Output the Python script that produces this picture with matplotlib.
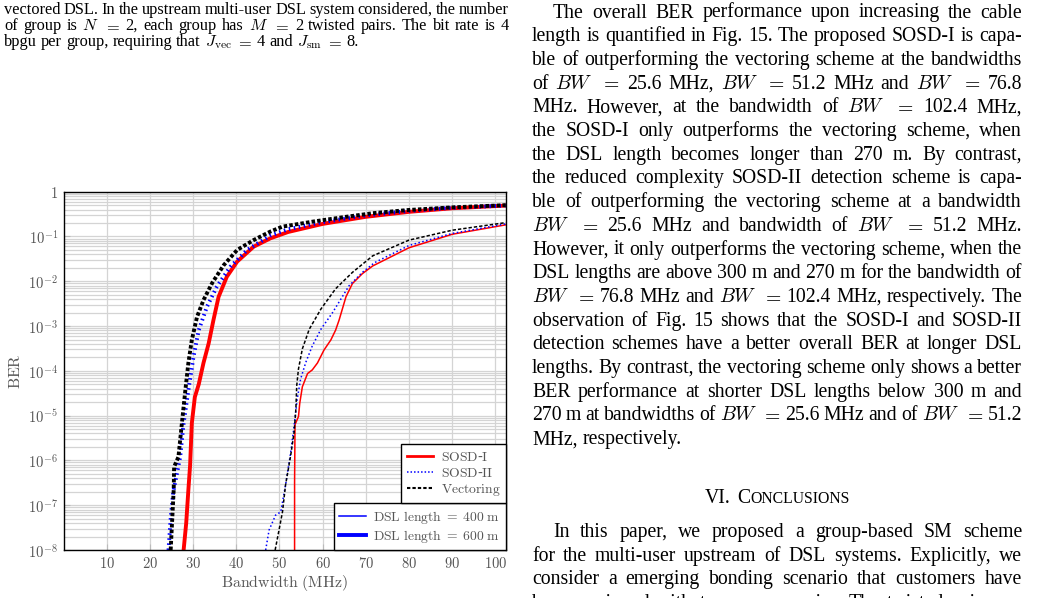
import numpy as np
import matplotlib
matplotlib.use('Agg')
import matplotlib.pyplot as plt
from matplotlib.lines import Line2D

plt.rcParams['mathtext.fontset'] = 'cm'

# ---- data (bandwidth in MHz, BER) ----
# DSL length = 600 m (thick lines)
bw_sosd1_600 = [27.8, 28.4, 28.9, 29.3, 29.7, 30.4, 31.3, 32.4, 33.6, 34.7, 35.9, 37.8, 40.2, 44.0, 47.9, 52.0, 60.0, 70.0, 80.0, 90.0, 102.4]
ber_sosd1_600 = [1e-8, 4.0e-8, 2.2e-7, 7.8e-7, 6.8e-6, 2.6e-5, 5.0e-5, 1.5e-4, 4.1e-4, 1.35e-3, 4.5e-3, 1.26e-2, 2.75e-2, 5.9e-2, 9.1e-2, 0.126, 0.191, 0.275, 0.355, 0.427, 0.49]
bw_sosd2_600 = [24.3, 24.8, 25.4, 26.2, 27.0, 27.8, 28.9, 30.1, 31.3, 33.2, 35.5, 38.6, 42.5, 47.9, 52.0, 60.0, 70.0, 80.0, 90.0, 102.4]
ber_sosd2_600 = [1e-8, 5.0e-8, 2.0e-7, 4.8e-7, 1.2e-6, 6.8e-6, 3.7e-5, 2.1e-4, 8.1e-4, 2.7e-3, 7.6e-3, 2.1e-2, 5.0e-2, 0.105, 0.145, 0.209, 0.295, 0.372, 0.437, 0.49]
bw_vec_600 = [24.8, 25.5, 25.6, 26.6, 27.4, 28.2, 28.9, 29.7, 30.9, 32.4, 34.4, 37.1, 40.2, 44.0, 47.9, 50.7, 57.6, 65.4, 71.6, 79.6, 90.0, 102.4]
ber_vec_600 = [1e-8, 2.2e-7, 7.2e-7, 1.2e-6, 6.8e-6, 3.7e-5, 1.5e-4, 4.9e-4, 1.6e-3, 3.8e-3, 9.1e-3, 2.3e-2, 5.0e-2, 8.3e-2, 0.129, 0.166, 0.214, 0.275, 0.331, 0.389, 0.447, 0.50]

# DSL length = 400 m (thin lines)
bw_sosd1_400 = [53.5, 53.5, 53.6, 54.4, 54.7, 55.3, 56.5, 57.6, 58.8, 60.3, 61.9, 63.0, 63.8, 65.4, 66.9, 69.2, 71.6, 80.0, 90.0, 102.4]
ber_sosd1_400 = [1e-8, 3.2e-7, 6.3e-6, 9.5e-6, 1.9e-5, 4.4e-5, 8.7e-5, 1.05e-4, 1.5e-4, 2.9e-4, 4.9e-4, 8.1e-4, 1.35e-3, 4.5e-3, 8.9e-3, 1.48e-2, 2.2e-2, 5.6e-2, 0.112, 0.182]
bw_sosd2_400 = [46.8, 47.6, 49.1, 50.3, 51.4, 52.6, 53.4, 54.1, 54.9, 56.1, 57.6, 59.6, 62.3, 66.1, 69.2, 72.0, 80.0, 90.0, 102.4]
ber_sosd2_400 = [1e-8, 2.8e-8, 6.0e-8, 7.1e-8, 2.8e-7, 1.5e-6, 6.0e-6, 2.3e-5, 6.6e-5, 1.55e-4, 3.6e-4, 8.5e-4, 2.0e-3, 7.9e-3, 1.58e-2, 2.6e-2, 6.3e-2, 0.117, 0.191]
bw_vec_400 = [49.0, 49.9, 50.7, 51.4, 52.6, 53.4, 53.8, 54.0, 54.4, 55.3, 56.9, 59.6, 63.0, 66.9, 71.6, 80.0, 90.0, 102.4]
ber_vec_400 = [1e-8, 2.8e-8, 7.1e-8, 2.8e-7, 1.3e-6, 4.3e-6, 1.4e-5, 4.7e-5, 1.1e-4, 3.1e-4, 8.5e-4, 2.4e-3, 6.8e-3, 1.58e-2, 3.7e-2, 8.3e-2, 0.138, 0.204]

x_ticks = [10, 20, 30, 40, 50, 60, 70, 80, 90, 100]
y_ticks = [1, 1e-1, 1e-2, 1e-3, 1e-4, 1e-5, 1e-6, 1e-7, 1e-8]
y_ticklabels = ['$1$', '$10^{-1}$', '$10^{-2}$', '$10^{-3}$', '$10^{-4}$',
                '$10^{-5}$', '$10^{-6}$', '$10^{-7}$', '$10^{-8}$']

caption_lines = [
    "vectored DSL. In the upstream multi-user DSL system considered, the number",
    "of group is $N$ $=$ 2, each group has $M$ $=$ 2 twisted pairs. The bit rate is 4",
    "bpgu per group, requiring that $J_{\\mathrm{vec}}$ $=$ 4 and $J_{\\mathrm{sm}}$ $=$ 8.",
]
body_lines = [
    "The overall BER performance upon increasing the cable",
    "length is quantified in Fig. 15. The proposed SOSD-I is capa-",
    "ble of outperforming the vectoring scheme at the bandwidths",
    "of $BW$ $=$ 25.6 MHz, $BW$ $=$ 51.2 MHz and $BW$ $=$ 76.8",
    "MHz. However, at the bandwidth of $BW$ $=$ 102.4 MHz,",
    "the SOSD-I only outperforms the vectoring scheme, when",
    "the DSL length becomes longer than 270 m. By contrast,",
    "the reduced complexity SOSD-II detection scheme is capa-",
    "ble of outperforming the vectoring scheme at a bandwidth",
    "$BW$ $=$ 25.6 MHz and bandwidth of $BW$ $=$ 51.2 MHz.",
    "However, it only outperforms the vectoring scheme, when the",
    "DSL lengths are above 300 m and 270 m for the bandwidth of",
    "$BW$ $=$ 76.8 MHz and $BW$ $=$ 102.4 MHz, respectively. The",
    "observation of Fig. 15 shows that the SOSD-I and SOSD-II",
    "detection schemes have a better overall BER at longer DSL",
    "lengths. By contrast, the vectoring scheme only shows a better",
    "BER performance at shorter DSL lengths below 300 m and",
    "270 m at bandwidths of $BW$ $=$ 25.6 MHz and of $BW$ $=$ 51.2",
    "MHz, respectively.",
]
concl_lines = [
    "In this paper, we proposed a group-based SM scheme",
    "for the multi-user upstream of DSL systems. Explicitly, we",
    "consider a emerging bonding scenario that customers have",
    "been equipped with two copper pairs. The twisted pairs are",
]

W, H = 1043, 598
fig = plt.figure(figsize=(W / 100, H / 100), dpi=100)
rend = fig.canvas.get_renderer()
gray = '#555555'


def word_width(s, size):
    t = fig.text(0, 0, s, fontsize=size, family='Liberation Serif', math_fontfamily='cm')
    w = t.get_window_extent(rend).width
    t.remove()
    return w


def text_line(line, x0, x1, yb, size, justify=True):
    words = line.split(' ')
    ws = [word_width(w, size) for w in words]
    gap = size * 100 / 72 * 0.25
    if justify and len(words) > 1:
        gap = (x1 - x0 - sum(ws)) / (len(words) - 1)
    x = x0
    for w, wd in zip(words, ws):
        fig.text(x / W, 1 - yb / H, w, fontsize=size, family='Liberation Serif',
                 math_fontfamily='cm', va='baseline', color='black')
        x += wd + gap


# caption (left column, top)
cap_size = 11.8
for i, line in enumerate(caption_lines):
    text_line(line, 4, 509, 14 + i * 16, cap_size, justify=(i < len(caption_lines) - 1))

# right column text
body_size = 14.2
col0, col1 = 532, 1022
step = 23.7
for i, line in enumerate(body_lines):
    x0 = col0 + 21 if i == 0 else col0
    text_line(line, x0, col1, 17.5 + i * step, body_size, justify=(i < len(body_lines) - 1))

# section heading in small caps
parts = [("VI.", body_size), (" ", body_size), ("C", body_size), ("ONCLUSIONS", body_size * 0.8)]
pw = [word_width(p, s) if p != " " else s * 100 / 72 * 0.35 for p, s in parts]
x = (col0 + col1) / 2 - sum(pw) / 2
for (p, s), wd in zip(parts, pw):
    if p != " ":
        fig.text(x / W, 1 - 503 / H, p, fontsize=s, family='Liberation Serif', va='baseline')
    x += wd

for i, line in enumerate(concl_lines):
    x0 = col0 + 21 if i == 0 else col0
    text_line(line, x0, col1, 537 + i * step, body_size, justify=True)

# ---- chart ----
ax = fig.add_axes([63.6 / W, 48 / H, (505.7 - 63.6) / W, (550 - 191.7) / H])

lw_thick, lw_thin = 2.8, 1.1
ax.plot(bw_sosd1_600, ber_sosd1_600, color='red', lw=lw_thick, solid_joinstyle='round')
ax.plot(bw_sosd2_600, ber_sosd2_600, color='blue', lw=lw_thick, linestyle=(0, (0.4, 0.9)))
ax.plot(bw_vec_600, ber_vec_600, color='black', lw=lw_thick, linestyle=(0, (0.9, 0.55)))
ax.plot(bw_sosd1_400, ber_sosd1_400, color='red', lw=lw_thin)
ax.plot(bw_sosd2_400, ber_sosd2_400, color='blue', lw=lw_thin, linestyle=(0, (1, 1.6)))
ax.plot(bw_vec_400, ber_vec_400, color='black', lw=lw_thin, linestyle=(0, (2.2, 1.3)))

ax.set_yscale('log')
ax.set_xlim(0, 102.4)
ax.set_ylim(1e-8, 1)
ax.set_xticks(x_ticks)
ax.set_xticklabels(['$%d$' % v for v in x_ticks])
ax.set_yticks(y_ticks)
ax.set_yticklabels(y_ticklabels)
ax.yaxis.set_minor_locator(matplotlib.ticker.LogLocator(base=10, subs=np.arange(2, 10)))
ax.yaxis.set_minor_formatter(matplotlib.ticker.NullFormatter())
ax.grid(True, which='major', color='#d4d4d4', lw=0.9)
ax.grid(True, which='minor', axis='y', color='#d4d4d4', lw=0.9)
ax.set_axisbelow(True)
ax.tick_params(which='major', direction='in', length=4, color='#bbbbbb',
               labelsize=10.5, labelcolor=gray, pad=4)
ax.tick_params(which='minor', direction='in', length=2, color='#cccccc')
for sp in ax.spines.values():
    sp.set_linewidth(1.0)
ax.set_xlabel(r'$\mathrm{Bandwidth\ (MHz)}$', fontsize=11.4, color=gray, labelpad=2)
ax.set_ylabel(r'$\mathrm{BER}$', fontsize=11.4, color=gray)
ax.yaxis.set_label_coords(-0.091, 0.5)

leg_kw = dict(fontsize=9.8, frameon=True, fancybox=False, edgecolor='black',
              framealpha=1, borderaxespad=0, handlelength=1.95, handletextpad=0.55,
              labelspacing=0.15, borderpad=0.4, labelcolor=gray)
h2 = [Line2D([], [], color='blue', lw=1.1), Line2D([], [], color='blue', lw=2.8)]
leg2 = ax.legend(h2, [r'$\mathrm{DSL\ length}\;=\;400\ \mathrm{m}$',
                      r'$\mathrm{DSL\ length}\;=\;600\ \mathrm{m}$'],
                 loc='lower right', **leg_kw)
leg2.get_frame().set_linewidth(1.0)
ax.add_artist(leg2)
fig.canvas.draw()
bb = leg2.get_window_extent(rend)
top = ax.transAxes.inverted().transform((0, bb.y1))[1]
h1 = [Line2D([], [], color='red', lw=2.0),
      Line2D([], [], color='blue', lw=1.1, linestyle=(0, (1, 1.3))),
      Line2D([], [], color='black', lw=1.5, linestyle=(0, (1.6, 1.0)))]
leg1 = ax.legend(h1, [r'$\mathrm{SOSD}$-$\mathrm{I}$', r'$\mathrm{SOSD}$-$\mathrm{II}$',
                      r'$\mathrm{Vectoring}$'],
                 loc='lower right', bbox_to_anchor=(1, top), **leg_kw)
leg1.get_frame().set_linewidth(1.0)

fig.savefig('out.png', dpi=100)
